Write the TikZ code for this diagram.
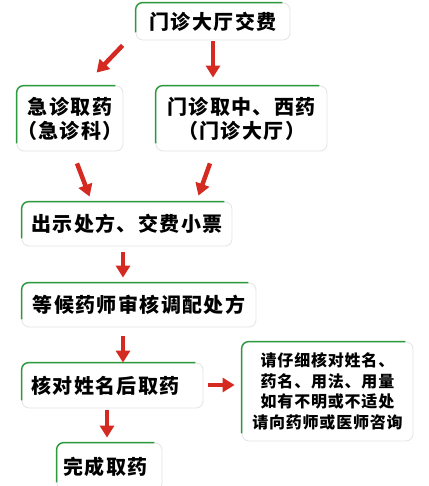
\documentclass[tikz,border=0pt]{standalone}
\usepackage{fontspec}
\newfontfamily\cjk[LetterSpace=7]{Noto Sans CJK SC}
\newfontfamily\cjks[LetterSpace=5]{Noto Sans CJK SC}
\usetikzlibrary{arrows.meta}
\definecolor{boxgreen}{HTML}{2A9A3C}
\definecolor{arrred}{HTML}{D42A22}
\definecolor{boxgray}{HTML}{E4E4E4}
\tikzset{
  pbox/.style={draw=boxgray, line width=0.8pt, fill=white, rounded corners=7pt,
    align=center, inner sep=0pt, font=\cjk\bfseries\fontsize{20}{24}\selectfont},
  pboxs/.style={pbox, font=\cjks\bfseries\fontsize{16}{20.5}\selectfont},
  greenedge/.style={draw=boxgreen, line width=1.4pt, rounded corners=7pt},
  redarrow/.style={draw=arrred, line width=4.5pt, -{Triangle[width=14pt,length=12pt]}}
}
\newcommand{\greentop}[1]{%
  \draw[greenedge] ([yshift=8pt]#1.south west) -- (#1.north west) -- ([xshift=-8pt]#1.north east);}
\begin{document}
\begin{tikzpicture}[x=1pt,y=1pt]
\useasboundingbox (0,0) rectangle (428,486);
\fill[white] (0,0) rectangle (428,486);
\node[pbox, minimum width=154pt, minimum height=37pt] (b1) at (213,464.5) {门诊大厅交费};
\node[pbox, minimum width=106pt, minimum height=65pt] (b2) at (70,367.5) {急诊取药\\（急诊科）};
\node[pbox, minimum width=171pt, minimum height=65pt] (b3) at (241.5,367.5) {门诊取中、西药\\（门诊大厅）};
\node[pbox, minimum width=210pt, minimum height=44pt] (b4) at (127,262) {出示处方、交费小票};
\node[pbox, minimum width=234pt, minimum height=44pt] (b5) at (139,181) {等候药师审核调配处方};
\node[pbox, minimum width=181pt, minimum height=45pt] (b6) at (112.5,100.5) {\hspace*{-14pt}核对姓名后取药};
\node[pbox, minimum width=105pt, minimum height=47pt] (b7) at (109.5,19.5) {\hspace*{-8pt}完成取药};
\node[pboxs, minimum width=171pt, minimum height=99pt] (b8) at (327.5,94.5) {请仔细核对姓名、\\药名、用法、用量\\如有不明或不适处\\请向药师或医师咨询};
\foreach \n in {b1,b2,b3,b4,b5,b6,b7,b8} {\greentop{\n}}
\draw[redarrow] ([shift={(-13pt,-5pt)}]b1.south west) -- ([shift={(80pt,13pt)}]b2.north west);
\draw[redarrow] ([shift={(0pt,-1pt)}]b1.south) -- ([shift={(-28.5pt,8pt)}]b3.north);
\draw[redarrow] ([shift={(7pt,-12pt)}]b2.south) -- ([shift={(68pt,5pt)}]b4.north west);
\draw[redarrow] ([shift={(-31.5pt,-12pt)}]b3.south) -- ([shift={(-34pt,6pt)}]b4.north east);
\draw[redarrow] ([shift={(-4pt,-6pt)}]b4.south) -- ([shift={(-16pt,5pt)}]b5.north);
\draw[redarrow] ([shift={(-16pt,-9pt)}]b5.south) -- ([shift={(10.5pt,0pt)}]b6.north);
\draw[redarrow] ([shift={(-5.5pt,-2pt)}]b6.south) -- ([shift={(-2.5pt,5pt)}]b7.north);
\draw[redarrow] ([shift={(5pt,0.5pt)}]b6.east) -- ([shift={(-7pt,6.5pt)}]b8.west);
\end{tikzpicture}
\end{document}
